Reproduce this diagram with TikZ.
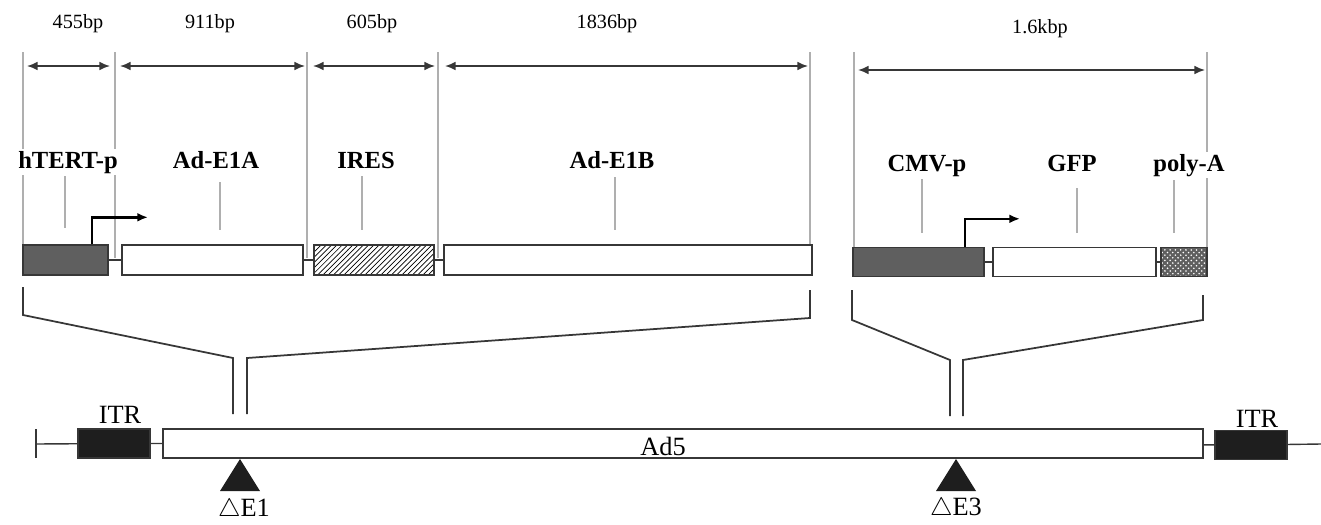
\documentclass[tikz,border=0pt]{standalone}
\usepackage{fontspec}
\setmainfont{Liberation Serif}
\usepackage{tikz}
\usetikzlibrary{arrows.meta,patterns}
\definecolor{guidegray}{RGB}{175,175,175}
\definecolor{promgray}{RGB}{95,95,95}
\definecolor{itrblack}{RGB}{30,30,30}
\definecolor{linegray}{RGB}{55,55,55}

\begin{document}
\begin{tikzpicture}[x=0.02cm, y=-0.02cm, >={Latex[length=6pt,width=5pt]},
  seg/.style={draw=linegray, line width=0.8pt, inner sep=0pt, minimum height=0.6cm},
  guide/.style={draw=guidegray, line width=0.6pt},
  dimarrow/.style={<->, draw=linegray, line width=1pt},
  funnel/.style={draw=linegray, line width=1pt},
  gene/.style={font=\fontsize{14}{16}\selectfont\bfseries, fill=white, inner sep=1pt, anchor=base},
  lenlabel/.style={font=\fontsize{11.5}{13}\selectfont, anchor=base},
  bottomlabel/.style={font=\fontsize{15}{17}\selectfont, anchor=base},
  promoter/.style={->, line width=1.4pt}]
  \useasboundingbox (0,0) rectangle (1321,524);

  % guides and sizes
  \foreach \x/\yb in {23/245, 115/258, 307/258, 438/258, 810/245, 854/248, 1207/250}
     \draw[guide] (\x,52) -- (\x,\yb);
  \foreach \a/\b/\y in {27/110/66, 120/305/66, 313/435/66, 445/808/66, 858/1205/70}
     \draw[dimarrow] (\a,\y) -- (\b,\y);
  \foreach \x/\y/\t [count=\i] in {78/29/455bp, 210/29/911bp, 372/29/605bp, 607/29/1836bp, 1040/33/1.6kbp}
     \node[lenlabel] (len\i) at (\x,\y) {\t};

  % element names
  \node[gene] (lhterp) at (68,168) {hTERT-p};
  \node[gene] (le1a) at (216,168) {Ad-E1A};
  \node[gene] (lires) at (366,168) {IRES};
  \node[gene] (le1b) at (612,168) {Ad-E1B};
  \node[gene] (lcmvp) at (927,171) {CMV-p};
  \node[gene] (lgfp) at (1072,171) {GFP};
  \node[gene] (lpolya) at (1189,171) {poly-A};
  \foreach \x/\a/\b in {65/176/228, 220/182/230, 362/176/230, 615/177/230, 922/179/233, 1077/188/233, 1174/180/233}
     \draw[guide] (\x,\a) -- (\x,\b);

  % E1 insert
  \node[seg, fill=promgray, minimum width=1.70cm] (hterp) at (65.5,260) {};
  \node[seg, fill=white, minimum width=3.62cm] (e1a) at (212.5,260) {};
  \node[seg, pattern=north east lines, minimum width=2.40cm] (ires) at (374,260) {};
  \node[seg, fill=white, minimum width=7.36cm] (e1b) at (628,260) {};
  \draw[linegray, line width=0.8pt] (hterp) -- (e1a) (e1a) -- (ires) (ires) -- (e1b);
  \draw[promoter] ([xshift=0.53cm]hterp.north) |- ++(56,-27);

  % E3 insert
  \node[seg, fill=promgray, minimum width=2.62cm, minimum height=0.58cm] (cmvp) at (918.5,262) {};
  \node[seg, fill=white, minimum width=3.26cm, minimum height=0.58cm] (gfp) at (1074.5,262) {};
  \node[seg, preaction={fill=promgray}, pattern=crosshatch dots, pattern color=white,
        minimum width=0.92cm, minimum height=0.58cm] (polya) at (1184,262) {};
  \draw[linegray, line width=0.8pt] (cmvp) -- (gfp) (gfp) -- (polya);
  \draw[promoter] ([xshift=0.93cm]cmvp.north) |- ++(55,-28);

  % funnels
  \draw[funnel] (23,287) -- (23,315) -- (233,358) -- (233,414);
  \draw[funnel] (247,414) -- (247,358) -- (810,318) -- (810,290);
  \draw[funnel] (852,290) -- (852,320) -- (950,360) -- (950,416);
  \draw[funnel] (963,416) -- (963,360) -- (1203,320) -- (1203,295);

  % Ad5 genome
  \coordinate (lend) at (36,444);
  \coordinate (rend) at (1321,444);
  \node[seg, fill=itrblack, minimum width=1.44cm, minimum height=0.58cm] (itrl) at (114,443.5) {};
  \node[seg, fill=white, minimum width=20.8cm, minimum height=0.58cm] (ad5) at (683,443.5) {};
  \node[seg, fill=itrblack, minimum width=1.44cm, minimum height=0.58cm] (itrr) at (1251,445) {};
  \draw[linegray, line width=0.8pt] (lend) -- (itrl) (itrl) -- (ad5) (ad5) -- (itrr) (itrr) -- (rend);
  \draw[linegray, line width=1pt] (36,429) -- (36,458);
  \node[bottomlabel] (litrl) at (120,423) {ITR};
  \node[bottomlabel] (litrr) at (1257,427) {ITR};
  \node[bottomlabel] (lad5) at (663,455) {Ad5};

  % deletions
  \fill[itrblack] (240,459) -- (220,491) -- (260,491) -- cycle;
  \fill[itrblack] (956,459) -- (936,491) -- (976,491) -- cycle;
  \node[bottomlabel] (lde1) at (244,516) {$\triangle$E1};
  \node[bottomlabel] (lde3) at (956,515) {$\triangle$E3};
\end{tikzpicture}
\end{document}
